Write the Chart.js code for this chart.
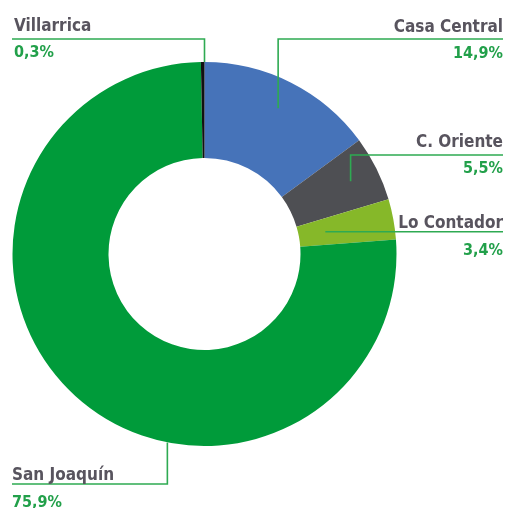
<!DOCTYPE html>
<html>
<head>
<meta charset="utf-8">
<script src="https://cdn.jsdelivr.net/npm/chart.js@4/dist/chart.umd.min.js"></script>
<style>
  html, body { margin: 0; padding: 0; background: #fff; }
  #wrap { width: 509px; height: 508px; }
</style>
</head>
<body>
<div id="wrap"><canvas id="donut" width="509" height="508"></canvas></div>
<script>
// data
var categories = ["Casa Central", "C. Oriente", "Lo Contador", "San Joaquín", "Villarrica"];
var shares = [14.9, 5.5, 3.4, 75.9, 0.3];
var sliceColors = ["#4673b9", "#4e4f53", "#86b829", "#009b3a", "#111111"];

function pct(v) { return v.toFixed(1).replace(".", ",") + "%"; }

// callout layout per slice (same order as categories)
// at: position along the arc (0 = start, 1 = end), r: fraction of outer radius
var callouts = [
  { at: 0.5,  r: 0.85, lineY: 39,  lineEnd: 503, tx: 503, align: "right", nameY: 32,  valY: 58 },
  { at: 0.5,  r: 0.85, lineY: 155, lineEnd: 503, tx: 503, align: "right", nameY: 147, valY: 173 },
  { at: 0.5,  r: 0.64, lineY: null, lineEnd: 503, tx: 503, align: "right", nameY: 228, valY: 255 },
  { at: 0.386, r: 1.0, lineY: 484, lineEnd: 12,  tx: 12,  align: "left",  nameY: 480, valY: 507 },
  { at: 1.0,  r: 1.0, lineY: 39,  lineEnd: 12,  tx: 14,  align: "left",  nameY: 31,  valY: 57 }
];

var labelFont = '600 17px "Liberation Sans Narrow", "DejaVu Sans Condensed", sans-serif';
var valueFont = '600 16px "Liberation Sans Narrow", "DejaVu Sans Condensed", sans-serif';

var calloutPlugin = {
  id: "callouts",
  afterDatasetsDraw: function(chart) {
    var ctx = chart.ctx;
    var meta = chart.getDatasetMeta(0);
    meta.data.forEach(function(arc, i) {
      var c = callouts[i];
      var p = arc.getProps(["x", "y", "startAngle", "endAngle", "outerRadius"], true);
      var a = p.startAngle + (p.endAngle - p.startAngle) * c.at;
      var ax = p.x + Math.cos(a) * p.outerRadius * c.r;
      var ay = p.y + Math.sin(a) * p.outerRadius * c.r;
      var ly = c.lineY === null ? ay : c.lineY;
      ctx.save();
      ctx.strokeStyle = "#2eaa52";
      ctx.lineWidth = 1.6;
      ctx.beginPath();
      ctx.moveTo(ax, ay);
      ctx.lineTo(ax, ly);
      ctx.lineTo(c.lineEnd, ly);
      ctx.stroke();
      ctx.textAlign = c.align;
      ctx.textBaseline = "alphabetic";
      ctx.font = labelFont;
      ctx.fillStyle = "#58545e";
      ctx.fillText(categories[i], c.tx, c.nameY);
      ctx.font = valueFont;
      ctx.fillStyle = "#22a04a";
      ctx.fillText(pct(shares[i]), c.tx, c.valY);
      ctx.restore();
    });
  }
};

new Chart(document.getElementById("donut"), {
  type: "doughnut",
  data: {
    labels: categories,
    datasets: [{
      data: shares,
      backgroundColor: sliceColors,
      borderWidth: 0
    }]
  },
  options: {
    responsive: false,
    animation: false,
    cutout: "50%",
    rotation: 0,
    layout: { padding: { left: 12, right: 112, top: 62, bottom: 62 } },
    plugins: {
      legend: { display: false },
      tooltip: { enabled: false }
    }
  },
  plugins: [calloutPlugin]
});
</script>
</body>
</html>
